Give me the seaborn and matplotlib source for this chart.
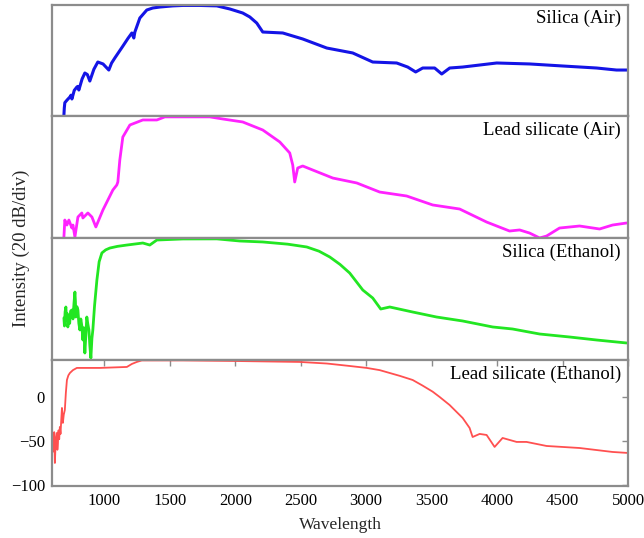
import numpy as np
import pandas as pd
import matplotlib
matplotlib.use("Agg")
import matplotlib.pyplot as plt
import seaborn as sns

# ---- data (wavelength, intensity in dB; each panel offset to its own frame) ----
silica_air_wl = [691, 694, 698, 715, 737, 745, 752, 770, 790, 797, 805, 830, 851, 870, 889, 920, 950,
                 990, 1034, 1055, 1080, 1140, 1180, 1210, 1225, 1233, 1271, 1324, 1370, 1424, 1523,
                 1600, 1729, 1859, 1958, 2057, 2111, 2164, 2210, 2363, 2515, 2699, 2897, 3050,
                 3233, 3317, 3378, 3432, 3523, 3577, 3638, 3737, 3997, 4249, 4500, 4760, 4912, 5000]
silica_air_db = [-83, -75, -69, -66, -62.5, -60.5, -64.8, -55, -51.2, -50.5, -54.6, -42, -35.3, -37, -44.4,
                 -31, -22.8, -25, -31.9, -24, -18.2, -5, 4, 10.2, 4.5, 11.3, 27.2, 36.3, 38.6, 39.7, 41,
                 41.5, 41.5, 41, 37.5, 32.9, 28.4, 21.5, 11.3, 10.2, 3.4, -6.9, -12.5, -22.8,
                 -23.9, -28.5, -34.1, -29.6, -29.6, -36.4, -29.6, -28.5, -23.9, -25.0, -27.3, -29.6, -31.9, -31.9]

lead_air_wl = [691, 698, 714, 729, 752, 760, 775, 798, 828, 836, 874, 905, 935, 989, 1065, 1095,
               1103, 1118, 1141, 1195, 1294, 1401, 1462, 1653, 1805, 1905, 2057, 2210, 2340, 2416,
               2439, 2454, 2477, 2515, 2592, 2745, 2928, 3103, 3309, 3508, 3714, 3920, 4095, 4172,
               4248, 4325, 4378, 4477, 4630, 4783, 4882, 4989]
lead_air_db = [-95.5, -76.2, -81.9, -76.2, -85.3, -81.9, -95.5, -72.8, -68.2, -73.9, -68.2, -72.8, -84.1,
               -64.8, -42.1, -36.4, -33.0, -8.0, 18.1, 31.8, 37.5, 37.5, 41, 41, 41, 38.6, 35.2, 26.1,
               12.5, 0, -13.7, -33.0, -17.1, -14.8, -19.4, -28.5, -34.1, -44.4, -48.9, -59.1, -63.7,
               -78.5, -88.7, -87.5, -91.0, -96.6, -94.4, -85.3, -83.0, -86.4, -81.9, -79.6]

silica_eth_wl = [691, 695, 700, 706, 712, 717, 721, 728, 735, 742, 752, 760, 768, 775, 779, 782, 790,
                 798, 805, 813, 820, 828, 836, 843, 851, 858, 866, 874, 882, 889, 897, 905, 912, 925,
                 943, 960, 981, 1010, 1042, 1100, 1172, 1294, 1347, 1401, 1599, 1859, 2034, 2210,
                 2400, 2546, 2640, 2722, 2800, 2874, 2974, 3050, 3111, 3180, 3355, 3538, 3737,
                 3966, 4118, 4325, 4554, 4760, 4989]
silica_eth_db = [-48.9, -58, -42, -36.4, -52, -44, -59.1, -47, -55, -41, -39.8, -50, -32, -19.4, -30,
                 -47.8, -36, -39.8, -55, -62.5, -50, -58, -73.9, -60, -88.7, -70, -47.8, -56, -62.5,
                 -80, -94.4, -72, -62.5, -35, -5.7, 15, 25.0, 28.5, 30.6, 32.5, 34.0, 36.3, 34.0,
                 39.7, 40.9, 41, 38.6, 37.5, 35, 31.8, 27, 20.4, 12, 2.2, -17.1, -26.2, -38.7, -36.4,
                 -42.1, -47.8, -52.3, -59.1, -61.4, -67.1, -70.5, -73.9, -77.3]

lead_eth_wl = [600, 603, 607, 612, 617, 622, 627, 632, 637, 641, 645, 650, 655, 660, 665, 670,
               676, 680, 683, 690, 698, 706, 714, 725, 737, 760, 790, 966, 1172, 1210, 1248,
               1286, 1599, 1981, 2492, 2700, 2874, 3004, 3103, 3256, 3355, 3430, 3508, 3561,
               3637, 3737, 3790, 3813, 3867, 3920, 3981, 4042, 4149, 4225, 4378, 4630, 4882, 4996]
lead_eth_db = [-34.1, -50, -45.5, -62, -40, -75, -55, -45, -40.9, -60, -52.3, -38, -48, -34.1, -42,
               -28, -12.5, -25, -29.5, -20, -14.8, 5, 19.3, 24.5, 27.3, 30.5, 33.0, 33.0,
               34.1, 37.5, 39.8, 41.5, 41.5, 40.9, 39.8, 38, 35.2, 33.0, 30.5, 24, 19.3, 13, 6, 0,
               -9.1, -23.9, -35.2, -45.5, -42.0, -43.2, -56.8, -46.6, -51.1, -51.1, -55.7, -58.0,
               -62.5, -63.6]

labels = ["Silica (Air)", "Lead silicate (Air)", "Silica (Ethanol)", "Lead silicate (Ethanol)"]
colors = ["#1414e6", "#ff22ff", "#22e622", "#ff5050"]
x_ticks = [1000, 1500, 2000, 2500, 3000, 3500, 4000, 4500, 5000]
y_ticks = [0, -50, -100]

series = [(silica_air_wl, silica_air_db), (lead_air_wl, lead_air_db),
          (silica_eth_wl, silica_eth_db), (lead_eth_wl, lead_eth_db)]

sns.set_theme(style="white")
plt.rcParams['font.family'] = ['Liberation Serif', 'DejaVu Serif']
plt.rcParams['axes.unicode_minus'] = True
plt.rcParams['lines.solid_joinstyle'] = 'round'

px_per_db = 0.88
heights = [111, 122, 122, 126]
fig = plt.figure(figsize=(6.44, 5.38), dpi=100)
gs = fig.add_gridspec(4, 1, height_ratios=heights, hspace=0,
                      left=52/644, right=628/644, bottom=1-486/538, top=1-5/538)
frame_col = "#8c8c8c"
lws = [2.2, 2.0, 2.0, 1.3]
for i in range(4):
    ax = fig.add_subplot(gs[i])
    wl, db = series[i]
    df = pd.DataFrame({"Wavelength": wl, "Intensity": db})
    sns.lineplot(data=df, x="Wavelength", y="Intensity", ax=ax, color=colors[i],
                 lw=lws[i], sort=False, estimator=None)
    ax.set_xlim(600, 5000)
    top = 42
    ax.set_ylim(top - heights[i] / px_per_db, top)
    for s in ax.spines.values():
        s.set_color(frame_col)
        s.set_linewidth(1.6)
    ax.text(0.988, 0.955, labels[i], transform=ax.transAxes, ha="right", va="top",
            fontsize=13.5, color="black")
    ax.set_ylabel("")
    if i < 3:
        ax.set_xticks([])
        ax.set_yticks([])
        ax.set_xlabel("")
    else:
        ax.set_xticks(x_ticks)
        ax.set_yticks(y_ticks)
        ax.tick_params(direction="in", top=True, right=True, length=4, width=1,
                       color=frame_col, labelsize=12, labelcolor="black", pad=5)
        ax.set_xlabel("Wavelength", fontsize=12.5, labelpad=6)

fig.text(0.033, 1 - 248/538, "Intensity (20 dB/div)", rotation=90, ha="center", va="center",
         fontsize=13.5)
fig.savefig("out.png", dpi=100)
